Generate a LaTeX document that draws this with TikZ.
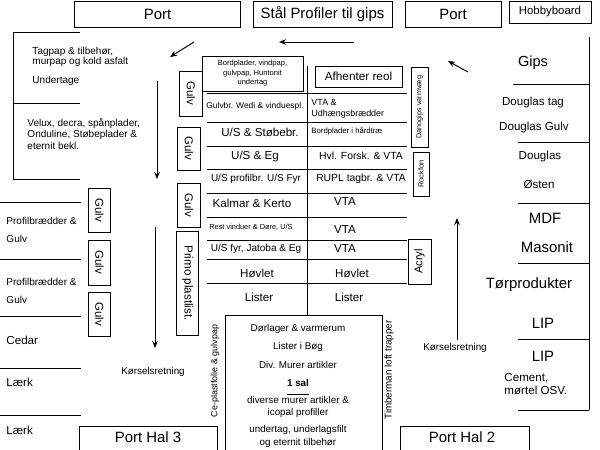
\documentclass[tikz,border=0pt]{standalone}
\usepackage{fontspec}
\setmainfont{Liberation Sans}
\usetikzlibrary{arrows.meta}

\begin{document}
\begin{tikzpicture}[x=0.02cm, y=-0.02cm, line width=0.55pt, >={Stealth[length=4pt,width=3.2pt]},
  box/.style={draw, inner sep=0pt, align=center},
  fs/.style={font=\fontsize{#1}{#1}\selectfont},
  lbl/.style={inner sep=0pt, align=left, anchor=west}]
  \useasboundingbox (0,0) rectangle (600,450);

  % Gates along the top wall
  \node[box, fs=8.5, minimum width=3.34cm, minimum height=0.52cm] (portA) at (157.5,14) {Port};
  \node[box, fs=8.5, minimum width=2.78cm, minimum height=0.52cm] (staal) at (322.5,14) {Stål Profiler til gips};
  \node[box, fs=8.5, minimum width=1.92cm, minimum height=0.52cm] (portB) at (453,14) {Port};
  \node[box, fs=6.5, minimum width=1.64cm, minimum height=0.44cm] (hobby) at (550,12) {Hobbyboard};

  % Left wall
  \draw (80,32) -| (13,179) -- (80,179);
  \draw (13,103) -- (80,103);
  \node[lbl, font=\fontsize{5.7}{6}\selectfont] (tagpap) at (32,57) {Tagpap \& tilbehør,\\murpap og kold asfalt};
  \node[lbl, fs=5.7] (undertage) at (32,81) {Undertage};
  \node[lbl, font=\fontsize{5.7}{6.8}\selectfont] (velux) at (27,134) {Velux, decra, spånplader,\\Onduline, Støbeplader \&\\eternit bekl.};
  \foreach \y in {202,259,316,368,415}
    \draw (0,\y) -- (81,\y);
  \foreach \y/\name in {230/profA, 291/profB}
    \node[lbl, font=\fontsize{5.7}{10.2}\selectfont] (\name) at (6,\y) {Profilbrædder \&\\Gulv};
  \foreach \y/\name/\txt in {340/cedar/Cedar, 382/laerkA/Lærk, 430/laerkB/Lærk}
    \node[lbl, fs=6.6] (\name) at (6,\y) {\txt};

  % Gulv boxes
  \foreach \pos/\len/\name in {{(99.5,210)/0.88/gulvA}, {(99.5,262.5)/0.9/gulvB}, {(99.5,314)/0.88/gulvC},
                               {(191,93.5)/0.9/gulvD}, {(189,148.5)/0.86/gulvE}, {(189,205)/0.88/gulvF}}
    \node[box, fs=6.5, rotate=-90, minimum width=\len cm, minimum height=0.45cm] (\name) at \pos {Gulv};
  \node[box, fs=6.6, rotate=-90, minimum width=2.08cm, minimum height=0.43cm] (primo) at (187.5,283) {Primo plastlist.};

  % Driving direction
  \coordinate (inA) at (194,42);   \coordinate (inB) at (170,57);
  \coordinate (topA) at (354,42);  \coordinate (topB) at (279,42);
  \coordinate (outA) at (468,72);  \coordinate (outB) at (448,61);
  \coordinate (downA) at (157,81); \coordinate (downB) at (157,179);
  \coordinate (downC) at (155,227); \coordinate (downD) at (155,348);
  \coordinate (upA) at (457,340);  \coordinate (upB) at (457,218);
  \foreach \source/\target in {inA/inB, topA/topB, outA/outB, downA/downB, downC/downD, upA/upB}
    \draw[->] (\source) -- (\target);
  \node[fs=5.6] (korselA) at (153,372) {Kørselsretning};
  \node[fs=5.6] (korselB) at (455,348) {Kørselsretning};

  % Shelving rows
  \draw (307,66) -- (307,315);
  \foreach \y in {93,122,146,169,193,217,240,259,283}
    \draw (207,\y) -- (407,\y);
  \node[box, font=\fontsize{4.3}{5.4}\selectfont, minimum width=2.02cm, minimum height=0.7cm] (bordpl) at (252.5,73.5) {Bordplader, vindpap,\\gulvpap, Huntonit\\undertag};
  \node[box, fs=6.7, minimum width=1.74cm, minimum height=0.42cm] (afhenter) at (358.5,76.5) {Afhenter reol};
  \node[box, fs=4.1, rotate=90, minimum width=1.6cm, minimum height=0.34cm] (danogips) at (419.5,107) {Danogips varmvæg};
  \node[box, fs=4.2, rotate=90, minimum width=0.88cm, minimum height=0.32cm] (rockfon) at (421,174) {Rockfon};
  \node[box, fs=6.4, rotate=90, minimum width=0.9cm, minimum height=0.46cm] (acryl) at (419.5,261.5) {Acryl};

  \foreach \pos/\size/\txt [count=\i] in {{(255,106)/4.8/{Gulvbr. Wedi \& vinduespl.}}, {(260,132)/6.6/{U/S \& Støbebr.}},
      {(255,156)/6.6/{U/S \& Eg}}, {(256,179)/5.7/{U/S profilbr. U/S Fyr}}, {(252,203)/6.6/{Kalmar \& Kerto}},
      {(251,227)/4.2/{Rest vinduer \& Døre, U/S}}, {(256,249)/5.7/{U/S fyr, Jatoba \& Eg}},
      {(257,273)/6.6/{Høvlet}}, {(259,297)/6.6/{Lister}}}
    \node[fs=\size, inner sep=0pt] (left\i) at \pos {\txt};

  \node[lbl, font=\fontsize{5.1}{6.3}\selectfont] (vtaUd) at (311,108.5) {VTA \&\\Udhængsbrædder};
  \node[lbl, fs=4.4] (bordhaard) at (311,131) {Bordplader i hårdtræ};
  \foreach \pos/\size/\txt [count=\i] in {{(361,156)/5.9/{Hvl. Forsk. \& VTA}}, {(361,179)/5.9/{RUPL tagbr. \& VTA}},
      {(345,202)/6.6/{VTA}}, {(345,230)/6.6/{VTA}}, {(345,249)/6.6/{VTA}},
      {(352,273)/6.6/{Høvlet}}, {(349,297)/6.6/{Lister}}}
    \node[fs=\size, inner sep=0pt] (right\i) at \pos {\txt};

  % First floor block
  \draw (225,452) |- (382,315) -- (382,452);
  \foreach \y/\txt [count=\i] in {329/{Dørlager \& varmerum}, 347/{Lister i Bøg}, 365/{Div. Murer artikler},
      383/{\textbf{1 sal}}, 400/{diverse murer artikler \&}, 413/{icopal profiller},
      430/{undertag, underlagsfilt}, 443/{og eternit tilbehør}}
    \node[fs=5.6, inner sep=0pt] (sal\i) at (298,\y) {\txt};
  \draw (287,394) -- (309,394);
  \node[fs=5.1, rotate=90] (ceplast) at (215,371) {Ce-plastfolie \& gulvpap};
  \node[fs=5.6, rotate=90] (timberman) at (389,370) {Timberman loft trapper};

  % Gates at the bottom
  \draw (79,452) |- (217,426) -- (217,452);
  \node[fs=8.5] (hal3) at (148,437) {Port Hal 3};
  \draw (400,452) |- (529,426) -- (529,452);
  \node[fs=8.5] (hal2) at (462,437) {Port Hal 2};

  % Right wall
  \draw (589,37) -- (589,410);
  \draw (513,84) -- (589,84);
  \foreach \y in {142,203,263,339,410}
    \draw (518,\y) -- (589,\y);
  \foreach \pos/\size/\txt [count=\i] in {{(533,63)/8.3/Gips}, {(533,103)/6.6/Douglas tag}, {(534,128)/6.6/Douglas Gulv},
      {(540,156)/6.6/Douglas}, {(539,184)/6.6/Østen}, {(545,218)/8.5/MDF}, {(547,247)/8.5/Masonit},
      {(529,285)/8.5/Tørprodukter}, {(543,323)/8.5/LIP}, {(543,356)/8.5/LIP}}
    \node[fs=\size, inner sep=0pt] (wall\i) at \pos {\txt};
  \node[lbl, font=\fontsize{6.6}{7.4}\selectfont] (cement) at (504,384.5) {Cement,\\mørtel OSV.};
\end{tikzpicture}
\end{document}
